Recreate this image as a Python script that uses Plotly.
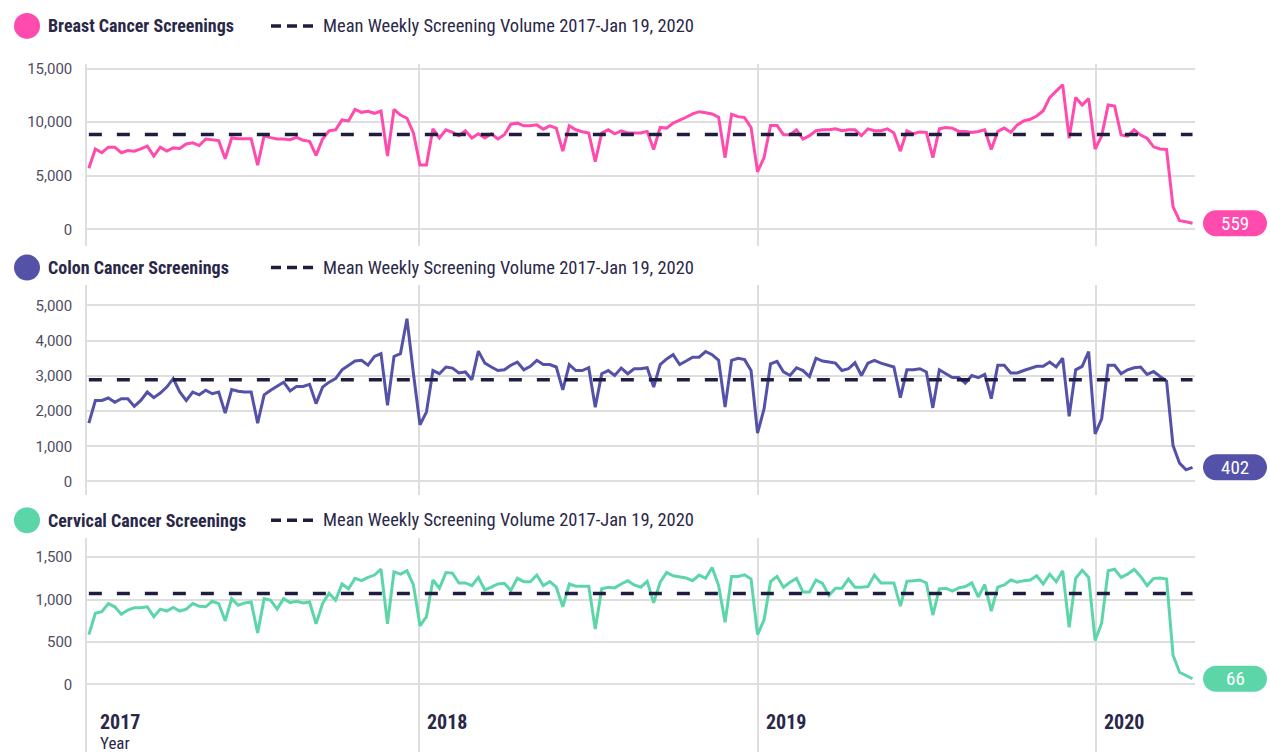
import plotly.graph_objects as go
import pandas as pd

W, H = 1270, 752

# ---------------- data ----------------
start_date = "2017-01-10"
n_weeks = 171
dates = pd.date_range(start_date, periods=n_weeks, freq="7D")

breast = [5700, 7500, 7150, 7670, 7670, 7150, 7360, 7300, 7500, 7760,
          6840, 7670, 7300, 7600, 7540, 7970, 8070, 7820, 8430, 8370,
          8280, 6590, 8530, 8460, 8460, 8460, 5980, 8740, 8560, 8430,
          8430, 8370, 8590, 8310, 8220, 6900, 8430, 9200, 9290, 10210,
          10120, 11190, 10920, 11010, 10830, 11040, 6840, 11190, 10670, 10370,
          8990, 6010, 6010, 9380, 8530, 9290, 9050, 8740, 9200, 8530,
          8920, 8530, 8920, 8430, 8830, 9810, 9910, 9660, 9660, 9750,
          9350, 9660, 9450, 7300, 9660, 9290, 9110, 8990, 6320, 8990,
          9290, 8920, 9200, 8990, 8990, 8990, 9140, 7450, 9510, 9450,
          9910, 10150, 10460, 10770, 10980, 10890, 10770, 10460, 6690, 10730,
          10520, 10430, 9510, 5370, 6690, 9690, 9690, 8830, 8830, 9290,
          8430, 8740, 9200, 9290, 9290, 9380, 9200, 9290, 9290, 8740,
          9380, 9200, 9200, 9380, 8990, 7300, 9200, 8920, 9080, 9050,
          6690, 9380, 9510, 9450, 9140, 9140, 9050, 9140, 9290, 7450,
          9140, 9450, 9050, 9750, 10120, 10270, 10580, 11070, 12300, 12900,
          13500, 8500, 12300, 11600, 12200, 7500, 8700, 11600, 11500, 8800,
          8700, 9300, 8800, 8500, 7700, 7500, 7450, 2100, 800, 700,
          559]

colon = [1657, 2300, 2300, 2370, 2250, 2350, 2350, 2130, 2300, 2540,
         2380, 2510, 2680, 2920, 2540, 2300, 2540, 2460, 2590, 2490,
         2540, 1940, 2610, 2560, 2540, 2540, 1657, 2460, 2590, 2700,
         2820, 2570, 2700, 2700, 2760, 2210, 2680, 2820, 2920, 3170,
         3300, 3420, 3440, 3300, 3550, 3630, 2160, 3550, 3630, 4620,
         3060, 1610, 1970, 3150, 3060, 3250, 3220, 3080, 3110, 2890,
         3700, 3360, 3250, 3150, 3170, 3300, 3390, 3170, 3270, 3440,
         3320, 3320, 3250, 2600, 3320, 3150, 3150, 3230, 2110, 3060,
         3150, 3010, 3220, 3060, 3200, 3200, 3230, 2680, 3320, 3480,
         3600, 3320, 3420, 3530, 3530, 3690, 3600, 3440, 2110, 3440,
         3500, 3460, 3150, 1370, 2060, 3340, 3410, 3110, 3010, 3230,
         3150, 2980, 3500, 3420, 3390, 3360, 3150, 3200, 3370, 3010,
         3360, 3440, 3360, 3300, 3250, 2380, 3170, 3170, 3200, 3110,
         2090, 3170, 3060, 2950, 2950, 2790, 3010, 2950, 3040, 2350,
         3300, 3300, 3080, 3080, 3150, 3200, 3270, 3270, 3390, 3250,
         3500, 1850, 3170, 3270, 3690, 1350, 1780, 3300, 3300, 3060,
         3170, 3230, 3250, 3040, 3120, 2980, 2850, 1020, 520, 330,
         402]

cervical = [586, 837, 856, 952, 914, 825, 875, 902, 902, 914,
            798, 887, 864, 906, 864, 887, 952, 921, 914, 979,
            952, 748, 1010, 933, 960, 971, 605, 1010, 991, 887,
            1010, 964, 979, 960, 971, 713, 952, 1075, 991, 1183,
            1126, 1249, 1222, 1260, 1288, 1357, 713, 1326, 1299, 1338,
            1172, 690, 798, 1230, 1133, 1318, 1311, 1195, 1195, 1164,
            1260, 1114, 1145, 1183, 1191, 1106, 1249, 1210, 1210, 1288,
            1164, 1210, 1145, 914, 1183, 1156, 1156, 1156, 651, 1126,
            1145, 1137, 1183, 1222, 1172, 1145, 1214, 960, 1203, 1318,
            1280, 1268, 1253, 1222, 1288, 1249, 1376, 1164, 732, 1272,
            1272, 1291, 1241, 586, 759, 1210, 1272, 1145, 1203, 1249,
            1087, 1087, 1230, 1191, 1049, 1133, 1133, 1241, 1145, 1145,
            1153, 1288, 1195, 1195, 1195, 921, 1214, 1222, 1230, 1195,
            817, 1126, 1133, 1099, 1137, 1153, 1195, 1030, 1176, 864,
            1145, 1172, 1230, 1203, 1222, 1230, 1280, 1183, 1299, 1210,
            1338, 671, 1249, 1345, 1260, 517, 721, 1338, 1357, 1260,
            1299, 1357, 1272, 1164, 1249, 1253, 1241, 343, 143, 104,
            66]

mean_breast = 8850
mean_colon = 2890
mean_cervical = 1070

series_names = ["Breast Cancer Screenings", "Colon Cancer Screenings",
                "Cervical Cancer Screenings"]
mean_label = "Mean Weekly Screening Volume 2017-Jan 19, 2020"
year_ticks = ["2018-01-01", "2019-01-01", "2020-01-01"]
year_labels = ["2017", "2018", "2019", "2020"]

breast_ticks = [0, 5000, 10000, 15000]
colon_ticks = [0, 1000, 2000, 3000, 4000, 5000]
cervical_ticks = [0, 500, 1000, 1500]

# ---------------- styling ----------------
colors = ["#FF4AAE", "#5451A8", "#5CD6A9"]
mean_color = "#1E1C3F"
text_color = "#2A2848"
tick_color = "#4F4D63"
grid_color = "#DEDEDE"
narrow = "Liberation Sans Narrow, Roboto Condensed, Roboto, sans-serif"


def fx(p):
    return p / W


def fy(p):
    return 1 - p / H


x_dom = [fx(87), fx(1195)]
x_range = ["2017-01-08", "2020-04-16 16:00"]

panels = [
    dict(top=60, bottom=243, rng=[-1532, 15464], ticks=breast_ticks, data=breast,
         mean=mean_breast, legend_y=22),
    dict(top=282, bottom=494, rng=[-395, 5593], ticks=colon_ticks, data=colon,
         mean=mean_colon, legend_y=265),
    dict(top=537, bottom=752, rng=[-797, 1723], ticks=cervical_ticks, data=cervical,
         mean=mean_cervical, legend_y=519),
]

fig = go.Figure()
shapes = []
annotations = []

for k, p in enumerate(panels):
    sfx = "" if k == 0 else str(k + 1)
    xa, ya = "x" + sfx, "y" + sfx

    fig.add_trace(go.Scatter(x=dates, y=p["data"], mode="lines",
                             line=dict(color=colors[k], width=3),
                             xaxis=xa, yaxis=ya, name=series_names[k],
                             hoverinfo="x+y"))
    fig.add_trace(go.Scatter(x=[dates[0], dates[-1]], y=[p["mean"], p["mean"]],
                             mode="lines",
                             line=dict(color=mean_color, width=3.5, dash="13px,15px"),
                             xaxis=xa, yaxis=ya, name=mean_label, hoverinfo="skip"))

    fig.update_layout(**{
        "xaxis" + sfx: dict(domain=x_dom, range=x_range, type="date",
                            anchor=ya, tickvals=year_ticks, showticklabels=False,
                            showgrid=True, gridcolor=grid_color, gridwidth=1.5,
                            zeroline=False, showline=False, ticks=""),
        "yaxis" + sfx: dict(domain=[fy(p["bottom"]), fy(p["top"])], range=p["rng"],
                            anchor=xa, tickvals=p["ticks"],
                            ticktext=[f"{v:,}" for v in p["ticks"]],
                            showgrid=True, gridcolor=grid_color, gridwidth=1.5,
                            zeroline=False, showline=True, linecolor=grid_color,
                            linewidth=1.5, ticks="outside", ticklen=10,
                            tickcolor="rgba(0,0,0,0)",
                            tickfont=dict(family="Roboto", size=15, color=tick_color)),
    })

    ly = p["legend_y"]
    shapes.append(dict(type="circle", xref="paper", yref="paper",
                       xsizemode="pixel", ysizemode="pixel",
                       xanchor=fx(27), yanchor=fy(ly),
                       x0=-13, x1=13, y0=-13, y1=13,
                       fillcolor=colors[k], line=dict(width=0)))
    annotations.append(dict(xref="paper", yref="paper", x=fx(46), y=fy(ly),
                            xanchor="left", yanchor="middle", showarrow=False,
                            text="<b>" + series_names[k] + "</b>",
                            font=dict(family=narrow, size=18, color=text_color)))
    shapes.append(dict(type="line", xref="paper", yref="paper",
                       x0=fx(271), x1=fx(313), y0=fy(ly), y1=fy(ly),
                       line=dict(color=mean_color, width=3.5, dash="10px,6px")))
    annotations.append(dict(xref="paper", yref="paper", x=fx(321), y=fy(ly),
                            xanchor="left", yanchor="middle", showarrow=False,
                            text=mean_label,
                            font=dict(family=narrow, size=18.5, color=text_color)))

    r = 13
    x0, x1 = 11, 75
    c = 0.552 * r
    path = (f"M {x0 + r},{-r} L {x1 - r},{-r} "
            f"C {x1 - r + c},{-r} {x1},{-c} {x1},0 "
            f"C {x1},{c} {x1 - r + c},{r} {x1 - r},{r} "
            f"L {x0 + r},{r} "
            f"C {x0 + r - c},{r} {x0},{c} {x0},0 "
            f"C {x0},{-c} {x0 + r - c},{-r} {x0 + r},{-r} Z")
    last_val = p["data"][-1]
    shapes.append(dict(type="path", xref="paper", yref=ya,
                       xsizemode="pixel", ysizemode="pixel",
                       xanchor=fx(1192), yanchor=last_val, path=path,
                       fillcolor=colors[k], line=dict(width=0)))
    annotations.append(dict(xref="paper", yref=ya, x=fx(1235), y=last_val,
                            xanchor="center", yanchor="middle", showarrow=False,
                            text=f"{last_val:,}",
                            font=dict(family=narrow, size=19, color="white")))

year_px = [98, 425, 764, 1102]
for lab, xp in zip(year_labels, year_px):
    annotations.append(dict(xref="paper", yref="paper", x=fx(xp), y=fy(722),
                            xanchor="left", yanchor="middle", showarrow=False,
                            text="<b>" + lab + "</b>",
                            font=dict(family=narrow, size=20, color=text_color)))
annotations.append(dict(xref="paper", yref="paper", x=fx(98), y=fy(743),
                        xanchor="left", yanchor="middle", showarrow=False,
                        text="Year",
                        font=dict(family=narrow, size=17, color=text_color)))

fig.update_layout(width=W, height=H, margin=dict(l=0, r=0, t=0, b=0),
                  paper_bgcolor="white", plot_bgcolor="white",
                  showlegend=False, shapes=shapes, annotations=annotations,
                  font=dict(family="Roboto", color=text_color))

fig.write_html("out.html",
               config={"displayModeBar": False},
               post_script=("document.body.style.margin='0';"
                            "document.body.style.overflow='hidden';"
                            "document.documentElement.style.overflow='hidden';"
                            "var d=document.getElementById('{plot_id}');"
                            "var r=d.getBoundingClientRect();"
                            "d.style.position='relative';"
                            "d.style.top=(-r.top)+'px';"
                            "d.style.left=(-r.left)+'px';"))
